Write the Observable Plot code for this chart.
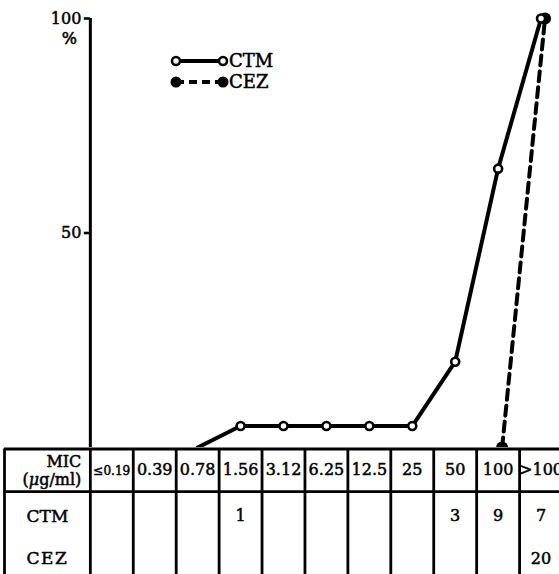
<!DOCTYPE html>
<html>
<head>
<meta charset="utf-8">
<script src="https://cdn.jsdelivr.net/npm/d3@7"></script>
<script src="https://cdn.jsdelivr.net/npm/@observablehq/plot@0.6"></script>
<style>
  body { margin: 0; background: #fff; }
  #wrap { position: relative; width: 559px; height: 574px; overflow: hidden; background: #fff; }
  #wrap svg { display: block; }
  #legend { position: absolute; left: 0; top: 0; }
</style>
</head>
<body>
<div id="wrap"></div>
<script>
// MIC classes (µg/ml) and number of strains at each MIC
const micLabels = ["≤0.19", "0.39", "0.78", "1.56", "3.12", "6.25", "12.5", "25", "50", "100", ">100"];
const ctmCounts = [0, 0, 0, 1, 0, 0, 0, 0, 3, 9, 7];
const cezCounts = [0, 0, 0, 0, 0, 0, 0, 0, 0, 0, 20];
const drugs = ["CTM", "CEZ"];
const yTicks = [50, 100];

const font = "DejaVu Serif";
const ink = "#000";
// a hairline outline gives the printed type a little more weight
const heavy = {fill: ink, stroke: ink, strokeWidth: 0.5};

// Cumulative % of strains inhibited, starting one class below the first hit
function cumulative(counts) {
  const total = d3.sum(counts);
  const run = d3.cumsum(counts);
  const first = counts.findIndex(c => c > 0);
  return counts
    .map((c, i) => ({i, mic: micLabels[i], pct: 100 * run[i] / total}))
    .filter(d => d.i >= first - 1);
}
const ctm = cumulative(ctmCounts);
const cez = cumulative(cezCounts);

// Shared horizontal layout: one column per MIC class, label column two wide
const n = micLabels.length;
const labelSpan = 2;
const xScale = {domain: [-0.5 - labelSpan, n - 0.5], range: [4, 562]};
const bounds = [-0.5 - labelSpan, ...d3.range(n + 1).map(i => i - 0.5)];

const chart = Plot.plot({
  width: 559,
  height: 447,
  margin: 0,
  x: {...xScale, axis: null},
  y: {domain: [0, 100], range: [447, 18]},
  style: {fontFamily: font, fontSize: "16px", color: ink, background: "#fff"},
  marks: [
    Plot.ruleX([-0.5], {y1: 0, y2: 100, strokeWidth: 3}),
    Plot.axisY(yTicks, {x: -0.5, anchor: "left", tickSize: 6, tickPadding: 3, strokeWidth: 2.6, fontSize: 16, label: null, textStroke: ink, textStrokeWidth: 0.5}),
    Plot.text(["%"], {x: -0.5, y: 100, dx: -21, dy: 20, fontSize: 16, ...heavy}),
    Plot.line(cez, {x: "i", y: "pct", dx: 4, stroke: ink, strokeWidth: 4, strokeDasharray: "10,6", clip: "frame"}),
    Plot.dot(cez, {x: "i", y: "pct", dx: 4, r: 6, fill: ink, clip: "frame"}),
    Plot.line(ctm, {x: "i", y: "pct", stroke: ink, strokeWidth: 4, clip: "frame"}),
    Plot.dot(ctm.filter(d => d.pct > 0), {x: "i", y: "pct", r: 4, fill: "#fff", stroke: ink, strokeWidth: 2.6})
  ]
});

// Data table under the chart: header row of MIC classes, then counts per drug
const rowCount = 1 + drugs.length;
const cells = [
  ...ctmCounts.map((c, i) => ({i, row: 1, c})),
  ...cezCounts.map((c, i) => ({i, row: 2, c}))
].filter(d => d.c > 0);

const table = Plot.plot({
  width: 559,
  height: 127,
  margin: 0,
  x: {...xScale, axis: null},
  y: {domain: [0, rowCount], range: [1.5, 1.5 + 42.7 * rowCount], axis: null},
  style: {fontFamily: font, fontSize: "16px", color: ink, background: "#fff"},
  marks: [
    Plot.ruleY([0, 1], {x1: xScale.domain[0], x2: xScale.domain[1], strokeWidth: 2.8}),
    Plot.ruleX(bounds, {x: d => d, y1: 0, y2: rowCount, strokeWidth: 2.8}),
    Plot.text(["MIC\n(μg/ml)"], {x: -0.5, y: 0.5, dx: -9, textAnchor: "end", lineHeight: 1.1, fontSize: 16, ...heavy}),
    Plot.text(micLabels, {x: (d, i) => i, y: 0.5, fontSize: d => d.startsWith("≤") ? 13 : 16, ...heavy}),
    Plot.text(drugs, {x: -1.5, y: (d, i) => i + 1.5, dy: 3, fontSize: 17, ...heavy}),
    Plot.text(cells, {x: "i", y: d => d.row + 0.5, dy: 3, text: d => String(d.c), fontSize: 16, ...heavy})
  ]
});

const wrap = document.getElementById("wrap");
wrap.append(chart, table);

// Typographic touches: condensed "≤0.19", italic µ, spaced CEZ
d3.select(table).selectAll("text").each(function() {
  const t = this.textContent;
  if (t === "≤0.19") d3.select(this).attr("textLength", 37).attr("lengthAdjust", "spacingAndGlyphs");
  if (t === "CEZ") d3.select(this).style("letter-spacing", "1.5px");
});
d3.select(table).selectAll("tspan").each(function() {
  if (this.textContent === "(μg/ml)") {
    const s = d3.select(this).text("");
    s.append("tspan").text("(");
    s.append("tspan").style("font-style", "italic").text("μ");
    s.append("tspan").text("g/ml)");
  }
});

// Legend
const legend = d3.select(wrap).append("svg")
  .attr("id", "legend").attr("width", 559).attr("height", 120)
  .style("font-family", font).style("font-size", "18px");
const entries = [
  {name: "CTM", y: 61, dash: null, fill: "#fff", r: 4},
  {name: "CEZ", y: 82, dash: "8,5", fill: ink, r: 5.5}
];
const lx0 = 176, lx1 = 223;
for (const e of entries) {
  const g = legend.append("g");
  g.append("line").attr("x1", lx0).attr("x2", lx1).attr("y1", e.y).attr("y2", e.y)
    .attr("stroke", ink).attr("stroke-width", 4).attr("stroke-dasharray", e.dash);
  for (const cx of [lx0, lx1]) {
    g.append("circle").attr("cx", cx).attr("cy", e.y).attr("r", e.r)
      .attr("fill", e.fill).attr("stroke", ink).attr("stroke-width", e.fill === ink ? 0 : 2.6);
  }
  g.append("text").attr("x", lx1 + 6).attr("y", e.y).attr("dy", "0.36em")
    .attr("fill", ink).attr("stroke", ink).attr("stroke-width", 0.5).text(e.name);
}
</script>
</body>
</html>
